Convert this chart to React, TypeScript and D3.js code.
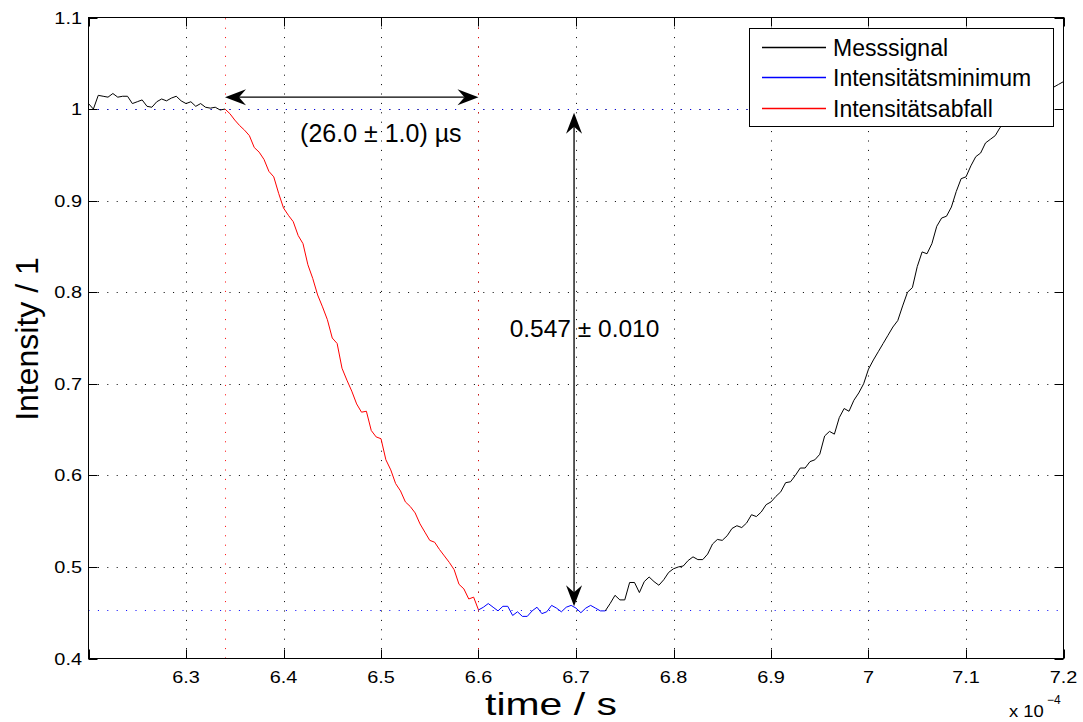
import React from 'react';
import * as d3 from 'd3';

// ---------- data (time in µs, sampled every 0.5 µs) ----------
const T_START_US = 620;
const T_STEP_US = 0.5;

// 620.0 .. 633.5 µs : plateau before the drop
const plateauValues = [
  1.006, 1.000, 1.015, 1.014, 1.013, 1.017, 1.013, 1.014, 1.014, 1.006,
  1.008, 1.010, 1.003, 1.002, 1.008, 1.011, 1.009, 1.012, 1.014, 1.009,
  1.006, 1.008, 1.003, 1.006, 1.002, 1.001, 1.002, 0.999,
];
// 634.0 .. 659.5 µs : intensity drop (Intensitätsabfall)
const dropValues = [
  1.000, 0.995, 0.988, 0.982, 0.977, 0.971, 0.958, 0.953, 0.945, 0.932,
  0.926, 0.908, 0.892, 0.884, 0.877, 0.862, 0.853, 0.830, 0.815, 0.797,
  0.784, 0.770, 0.750, 0.744, 0.717, 0.704, 0.692, 0.678, 0.669, 0.670,
  0.649, 0.642, 0.640, 0.617, 0.606, 0.591, 0.583, 0.571, 0.566, 0.559,
  0.547, 0.538, 0.529, 0.527, 0.519, 0.512, 0.505, 0.497, 0.481, 0.476,
  0.465, 0.467,
];
// 660.0 .. 672.5 µs : intensity minimum (Intensitätsminimum)
const minimumValues = [
  0.453, 0.456, 0.460, 0.456, 0.452, 0.457, 0.457, 0.447, 0.451, 0.446,
  0.446, 0.452, 0.456, 0.449, 0.451, 0.458, 0.455, 0.451, 0.456, 0.458,
  0.455, 0.450, 0.455, 0.458, 0.455, 0.452,
];
// 673.0 .. 720.0 µs : recovery
const riseValues = [
  0.452, 0.460, 0.469, 0.464, 0.464, 0.483, 0.483, 0.472, 0.484, 0.489,
  0.484, 0.480, 0.486, 0.494, 0.498, 0.500, 0.501, 0.507, 0.511, 0.508,
  0.508, 0.514, 0.525, 0.530, 0.529, 0.534, 0.542, 0.545, 0.543, 0.548,
  0.557, 0.555, 0.560, 0.568, 0.571, 0.577, 0.582, 0.592, 0.593, 0.600,
  0.608, 0.608, 0.615, 0.617, 0.623, 0.643, 0.648, 0.645, 0.663, 0.673,
  0.670, 0.682, 0.690, 0.700, 0.716, 0.726, 0.735, 0.744, 0.753, 0.762,
  0.769, 0.785, 0.800, 0.805, 0.828, 0.844, 0.842, 0.853, 0.872, 0.881,
  0.883, 0.893, 0.910, 0.924, 0.926, 0.938, 0.948, 0.952, 0.963, 0.967,
  0.971, 0.980, 0.985, 0.990, 0.995, 0.999, 1.004, 1.008, 1.011, 1.015,
  1.018, 1.021, 1.024, 1.027, 1.030,
];

const dropRangeUs = [634, 660];
const minimumRangeUs = [660, 673];
const baselineLevel = 1.0;
const minimumLevel = 0.453;

const xDomain = [6.2e-4, 7.2e-4];
const yDomain = [0.4, 1.1];
const xTicks = [6.2e-4, 6.3e-4, 6.4e-4, 6.5e-4, 6.6e-4, 6.7e-4, 6.8e-4, 6.9e-4, 7.0e-4, 7.1e-4, 7.2e-4];
const xTickLabels = ['', '6.3', '6.4', '6.5', '6.6', '6.7', '6.8', '6.9', '7', '7.1', '7.2'];
const yTicks = [0.4, 0.5, 0.6, 0.7, 0.8, 0.9, 1.0, 1.1];
const yTickLabels = ['0.4', '0.5', '0.6', '0.7', '0.8', '0.9', '1', '1.1'];

const legendLabels = ['Messsignal', 'Intensitätsminimum', 'Intensitätsabfall'];
const legendColors = ['#000000', 'rgb(0,0,255)', 'rgb(255,0,0)'];

// annotations (data coordinates)
const spanArrow = { y: 1.013, x1: 6.34e-4, x2: 6.6e-4 };
const depthArrow = { x: 6.698e-4, y1: 0.996, y2: 0.457 };
const spanText = { x: 6.417e-4, y: 0.964, label: '(26.0 ± 1.0) µs' };
const depthText = { x: 6.632e-4, y: 0.751, label: '0.547 ± 0.010' };

// ---------- layout ----------
const W = 1083;
const H = 722;
const L = 88.5, R = 1063.5, T = 17.5, B = 658.5;
const FONT = "'Liberation Sans', Arial, Helvetica, sans-serif";
const DOTS = '1,8.4';

type Pt = { t: number; v: number };

const allValues = [...plateauValues, ...dropValues, ...minimumValues, ...riseValues];
const signal: Pt[] = allValues.map((v, i) => ({ t: (T_START_US + i * T_STEP_US) * 1e-6, v }));
const inRange = (p: Pt, a: number, b: number) => p.t >= a * 1e-6 - 1e-12 && p.t <= b * 1e-6 + 1e-12;

function arrowHead(tx: number, ty: number, dx: number, dy: number) {
  const len = 21, half = 8, notch = 7;
  const nx = -dy, ny = dx;
  const bx = tx - dx * len, by = ty - dy * len;
  const cx = tx - dx * (len - notch), cy = ty - dy * (len - notch);
  return `M${tx},${ty}L${bx + nx * half},${by + ny * half}L${cx},${cy}L${bx - nx * half},${by - ny * half}Z`;
}

export default function App() {
  const x = d3.scaleLinear().domain(xDomain).range([L, R]);
  const y = d3.scaleLinear().domain(yDomain).range([B, T]);
  const line = d3.line<Pt>().x((d) => x(d.t)).y((d) => y(d.v));

  const beforePts = signal.filter((p) => inRange(p, T_START_US, dropRangeUs[0]));
  const dropPts = signal.filter((p) => inRange(p, dropRangeUs[0], dropRangeUs[1]));
  const minPts = signal.filter((p) => inRange(p, minimumRangeUs[0], minimumRangeUs[1]));
  const afterPts = signal.filter((p) => inRange(p, minimumRangeUs[1], 1000));

  const ha = { y: y(spanArrow.y), x1: x(spanArrow.x1), x2: x(spanArrow.x2) };
  const va = { x: x(depthArrow.x), y1: y(depthArrow.y1), y2: y(depthArrow.y2) };

  const legendRows = [47.5, 77.5, 108.5];
  const crisp = (v: number) => Math.round(v) + 0.5;

  return (
    <svg width={W} height={H} style={{ position: 'absolute', left: 0, top: 0, background: '#fff' }} fontFamily={FONT}>
      <rect x={0} y={0} width={W} height={H} fill="#fff" />
      {/* grid */}
      <g stroke="#000" strokeWidth={1} strokeDasharray={DOTS}>
        {xTicks.slice(1, -1).map((t) => (
          <line key={'gx' + t} x1={crisp(x(t))} x2={crisp(x(t))} y1={B} y2={T} />
        ))}
        {yTicks.slice(1, -1).map((v) => (
          <line key={'gy' + v} x1={L} x2={R} y1={crisp(y(v))} y2={crisp(y(v))} />
        ))}
      </g>
      {/* reference dotted lines */}
      <g strokeWidth={1} strokeDasharray={DOTS}>
        <line x1={L} x2={R} y1={crisp(y(baselineLevel))} y2={crisp(y(baselineLevel))} stroke="#0000ff" />
        <line x1={L} x2={R} y1={crisp(y(minimumLevel))} y2={crisp(y(minimumLevel))} stroke="#0000ff" />
        <line x1={crisp(x(dropRangeUs[0] * 1e-6))} x2={crisp(x(dropRangeUs[0] * 1e-6))} y1={B} y2={T} stroke="#ff0000" />
        <line x1={crisp(x(dropRangeUs[1] * 1e-6))} x2={crisp(x(dropRangeUs[1] * 1e-6))} y1={B} y2={T} stroke="#ff0000" />
      </g>
      {/* data */}
      <path d={line(beforePts) || ''} fill="none" stroke="#000" strokeWidth={1} />
      <path d={line(afterPts) || ''} fill="none" stroke="#000" strokeWidth={1} />
      <path d={line(dropPts) || ''} fill="none" stroke="#ff0000" strokeWidth={1} />
      <path d={line(minPts) || ''} fill="none" stroke="#0000ff" strokeWidth={1} />
      {/* axes box and ticks */}
      <rect x={L} y={T} width={R - L} height={B - T} fill="none" stroke="#000" strokeWidth={1} />
      <g stroke="#000" strokeWidth={1}>
        {xTicks.map((t) => {
          const px = crisp(x(t));
          return (
            <g key={'tx' + t}>
              <line x1={px} x2={px} y1={B} y2={B - 9} />
              <line x1={px} x2={px} y1={T} y2={T + 9} />
            </g>
          );
        })}
        {yTicks.map((v) => {
          const py = crisp(y(v));
          return (
            <g key={'ty' + v}>
              <line x1={L} x2={L + 9} y1={py} y2={py} />
              <line x1={R} x2={R - 9} y1={py} y2={py} />
            </g>
          );
        })}
      </g>
      {/* tick labels */}
      <g fontSize={17} fill="#000">
        {xTicks.map((t, i) => (
          <text key={'lx' + t} transform={`translate(${x(t)},${683}) scale(1.17,1)`} textAnchor="middle">
            {xTickLabels[i]}
          </text>
        ))}
        {yTicks.map((v, i) => (
          <text key={'ly' + v} transform={`translate(${82},${y(v) + 6}) scale(1.17,1)`} textAnchor="end">
            {yTickLabels[i]}
          </text>
        ))}
        <text transform={`translate(${1009},${717}) scale(1.15,1)`} fontSize={16}>x 10</text>
        <text x={1047} y={704} fontSize={12}>−4</text>
      </g>
      {/* axis labels */}
      <text transform={`translate(551,715) scale(1.28,1)`} textAnchor="middle" fontSize={32}>time / s</text>
      <text transform={`translate(38,${339}) rotate(-90)`} textAnchor="middle" fontSize={32}>Intensity / 1</text>
      {/* annotations */}
      <g fill="#000" stroke="none">
        <line x1={ha.x1 + 14} x2={ha.x2 - 14} y1={ha.y} y2={ha.y} stroke="#000" strokeWidth={1.3} />
        <path d={arrowHead(ha.x1, ha.y, -1, 0)} />
        <path d={arrowHead(ha.x2, ha.y, 1, 0)} />
        <line x1={va.x} x2={va.x} y1={va.y1 + 14} y2={va.y2 - 14} stroke="#000" strokeWidth={1.3} />
        <path d={arrowHead(va.x, va.y1, 0, -1)} />
        <path d={arrowHead(va.x, va.y2, 0, 1)} />
      </g>
      <text x={x(spanText.x)} y={y(spanText.y)} fontSize={25}>{spanText.label}</text>
      <text x={x(depthText.x)} y={y(depthText.y)} fontSize={24.5}>{depthText.label}</text>
      {/* legend */}
      <rect x={749.5} y={28.5} width={304} height={98} fill="#fff" stroke="#000" strokeWidth={1} />
      {legendLabels.map((lab, i) => (
        <g key={lab}>
          <line x1={762} x2={826} y1={legendRows[i]} y2={legendRows[i]} stroke={legendColors[i]} strokeWidth={1.3} />
          <text x={833} y={legendRows[i] + 8} fontSize={23}>{lab}</text>
        </g>
      ))}
    </svg>
  );
}
